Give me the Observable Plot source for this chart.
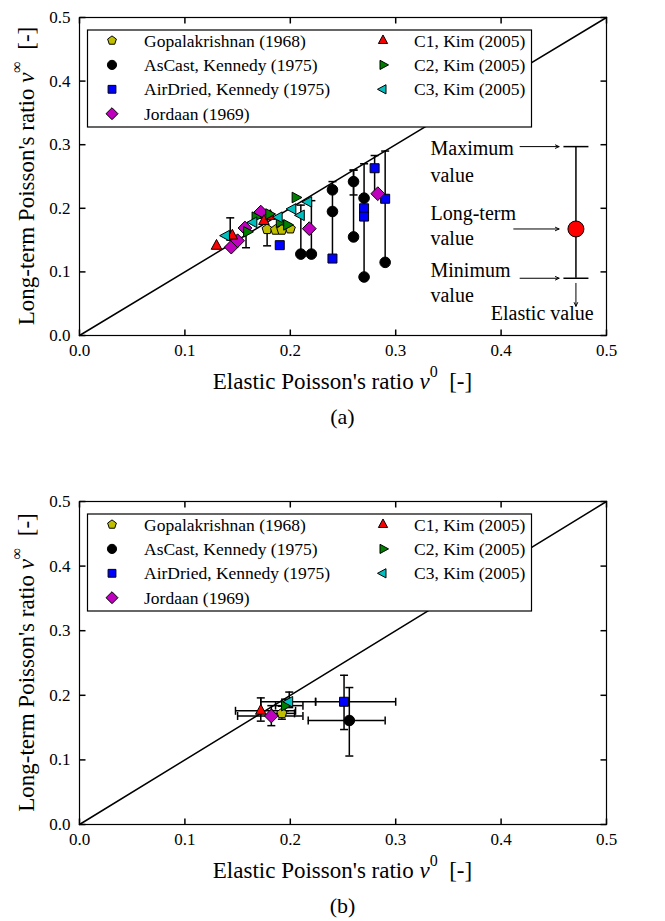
<!DOCTYPE html>
<html><head><meta charset="utf-8">
<script src="https://cdn.jsdelivr.net/npm/d3@7"></script>
<script src="https://cdn.jsdelivr.net/npm/@observablehq/plot@0.6"></script>
<style>body{margin:0;background:#fff;} #chart{width:665px;} svg{display:block;}</style>
</head><body><div id="chart"></div>
<script>
// ---------- shared ----------
const ticks = [0, 0.1, 0.2, 0.3, 0.4, 0.5];
const diagonal = [0, 0.5];
const legendLabels = ["Gopalakrishnan (1968)", "AsCast, Kennedy (1975)", "AirDried, Kennedy (1975)", "Jordaan (1969)",
                      "C1, Kim (2005)", "C2, Kim (2005)", "C3, Kim (2005)"];
const seriesColors = ["#bfbf00", "#000000", "#0000ff", "#bf00bf", "#ff0000", "#008000", "#00bfbf"];
const xTitle = "Elastic Poisson's ratio ";
const yTitle = "Long-term Poisson's ratio ";
const panelTags = ["(a)", "(b)"];

// ---------- panel (a): [x = elastic, y = long-term] ----------
const a_gopal    = [[0.178,0.167],[0.186,0.166],[0.192,0.166],[0.200,0.168]];
const a_ascast   = [[0.21,0.128],[0.22,0.128],[0.24,0.229],[0.24,0.195],[0.26,0.242],[0.26,0.155],[0.27,0.216],[0.27,0.092],[0.29,0.115]];
const a_airdried = [[0.19,0.142],[0.24,0.121],[0.27,0.200],[0.27,0.187],[0.28,0.263],[0.29,0.215]];
const a_jordaan  = [[0.144,0.139],[0.150,0.149],[0.157,0.169],[0.172,0.194],[0.218,0.168],[0.283,0.223]];
const a_c1       = [[0.130,0.141],[0.145,0.157],[0.175,0.180],[0.181,0.188]];
const a_c2       = [[0.159,0.163],[0.167,0.186],[0.180,0.191],[0.190,0.178],[0.197,0.174],[0.205,0.217]];
const a_c3       = [[0.139,0.157],[0.165,0.178],[0.189,0.186],[0.202,0.199],[0.210,0.189],[0.217,0.210]];
// vertical range lines [x, low, high]
const a_ranges   = [[0.21,0.128,0.205],[0.22,0.128,0.212],[0.24,0.121,0.242],[0.26,0.155,0.26],[0.27,0.092,0.27],[0.28,0.223,0.283],[0.29,0.115,0.29]];
const a_errbars  = [[0.143,0.150,0.185],[0.158,0.138,0.170],[0.178,0.141,0.190],[0.26,0.221,0.26]];
// explanatory key drawn inside panel (a)
const key_bar    = [[0.471, 0.090, 0.297]];
const key_point  = [[0.471, 0.1675]];
const key_arrows = [[0.418,0.297,0.455,0.297],[0.412,0.1675,0.455,0.1675],[0.418,0.090,0.455,0.090],[0.471,0.082,0.471,0.046]];
const key_text_left = [["Maximum",0.333,0.294],["value",0.333,0.251],["Long-term",0.333,0.1915],
                       ["value",0.333,0.152],["Minimum",0.333,0.102],["value",0.333,0.063]];
const key_text_mid  = [["Elastic value",0.439,0.034]];

// ---------- panel (b): [x, y, xlo, xhi, ylo, yhi] ----------
const b_gopal    = [[0.192,0.172,0.183,0.204,0.163,0.183]];
const b_ascast   = [[0.256,0.161,0.217,0.290,0.106,0.212]];
const b_airdried = [[0.251,0.190,0.224,0.300,0.147,0.231]];
const b_jordaan  = [[0.182,0.168,0.150,0.212,0.153,0.184]];
const b_c1       = [[0.172,0.176,0.148,0.205,0.160,0.196]];
const b_c2       = [[0.195,0.184,0.186,0.212,0.176,0.194]];
const b_c3       = [[0.199,0.190,0.172,0.224,0.181,0.205]];

// ---------- symbols ----------
const FONT = "'Liberation Serif','Times New Roman',serif";
const mk = f => ({draw(c, size) { const r = Math.sqrt(size / Math.PI); f(c, r); }});
const pentagon = mk((c, r) => { for (let i = 0; i < 5; i++) { const a = -Math.PI/2 + i*2*Math.PI/5; const x = r*Math.cos(a), y = r*Math.sin(a); i ? c.lineTo(x, y) : c.moveTo(x, y); } c.closePath(); });
const circle   = mk((c, r) => { c.moveTo(r, 0); c.arc(0, 0, r, 0, 2*Math.PI); });
const square   = mk((c, r) => { const s = r*0.85; c.moveTo(-s,-s); c.lineTo(s,-s); c.lineTo(s,s); c.lineTo(-s,s); c.closePath(); });
const diamond  = mk((c, r) => { const s = r*1.3; c.moveTo(0,-s); c.lineTo(s,0); c.lineTo(0,s); c.lineTo(-s,0); c.closePath(); });
const triUp    = mk((c, r) => { c.moveTo(0,-r*1.2); c.lineTo(r,r*0.65); c.lineTo(-r,r*0.65); c.closePath(); });
const triRight = mk((c, r) => { c.moveTo(r*1.2,0); c.lineTo(-r*0.65,r); c.lineTo(-r*0.65,-r); c.closePath(); });
const triLeft  = mk((c, r) => { c.moveTo(-r*1.2,0); c.lineTo(r*0.65,-r); c.lineTo(r*0.65,r); c.closePath(); });
const hcap     = mk((c, r) => { c.moveTo(-r,0); c.lineTo(r,0); });
const vcap     = mk((c, r) => { c.moveTo(0,-r); c.lineTo(0,r); });
const tkUp     = {draw(c){ c.moveTo(0,0); c.lineTo(0,-6); }};
const tkDown   = {draw(c){ c.moveTo(0,0); c.lineTo(0,6); }};
const tkRight  = {draw(c){ c.moveTo(0,0); c.lineTo(6,0); }};
const tkLeft   = {draw(c){ c.moveTo(0,0); c.lineTo(-6,0); }};
const seriesSymbols = [pentagon, circle, square, diamond, triUp, triRight, triLeft];
const R = 5.3;

const dots = (data, i, r = R) => Plot.dot(data, {x: d => d[0], y: d => d[1], symbol: seriesSymbols[i], r,
  fill: seriesColors[i], stroke: "black", strokeWidth: 1});

function frameMarks() {
  return [
    Plot.axisX(ticks, {tickSize: 0, tickPadding: 8, tickFormat: d3.format(".1f"), fontSize: 17, fontFamily: FONT, label: null}),
    Plot.axisY(ticks, {tickSize: 0, tickPadding: 9, tickFormat: d3.format(".1f"), fontSize: 17, fontFamily: FONT, label: null}),
    Plot.dot(ticks, {x: d => d, frameAnchor: "bottom", symbol: tkUp, r: 1, fill: "none", stroke: "black"}),
    Plot.dot(ticks, {x: d => d, frameAnchor: "top", symbol: tkDown, r: 1, fill: "none", stroke: "black"}),
    Plot.dot(ticks, {y: d => d, frameAnchor: "left", symbol: tkRight, r: 1, fill: "none", stroke: "black"}),
    Plot.dot(ticks, {y: d => d, frameAnchor: "right", symbol: tkLeft, r: 1, fill: "none", stroke: "black"}),
    Plot.frame({stroke: "black", strokeWidth: 1.2})
  ];
}

function panel(height, marginTop, marginBottom, marks) {
  return Plot.plot({
    width: 665, height, marginLeft: 79, marginRight: 59, marginTop, marginBottom,
    x: {domain: [0, 0.5], label: null, axis: null},
    y: {domain: [0, 0.5], label: null, axis: null},
    style: {fontFamily: FONT, fontSize: "17px", background: "white", color: "black"},
    marks: [
      Plot.line(diagonal, {x: d => d, y: d => d, stroke: "black", strokeWidth: 1.5}),
      ...marks,
      ...frameMarks()
    ]
  });
}

function decorate(svg, plotTop, plotBottom, tag) {
  const s = d3.select(svg);
  s.selectAll("text").style("font-family", FONT);
  const cx = (79 + 606) / 2, cy = (plotTop + plotBottom) / 2;
  const TS = 23;
  // x title
  const tx = s.append("text").attr("x", cx).attr("y", plotBottom + 46).attr("text-anchor", "middle")
    .style("font-family", FONT).attr("font-size", TS).attr("fill", "black").attr("dominant-baseline", "central");
  tx.append("tspan").text(xTitle);
  tx.append("tspan").attr("font-style", "italic").text("ν");
  tx.append("tspan").attr("dy", -10).attr("font-size", 16).text("0");
  tx.append("tspan").attr("dy", 10).text("\u00a0\u00a0[-]");
  // y title
  const ty = s.append("text").attr("transform", `translate(26,${cy}) rotate(-90)`).attr("text-anchor", "middle")
    .style("font-family", FONT).attr("font-size", TS).attr("fill", "black").attr("dominant-baseline", "central");
  ty.append("tspan").text(yTitle);
  ty.append("tspan").attr("font-style", "italic").text("ν");
  ty.append("tspan").attr("dy", -10).attr("font-size", 16).text("∞");
  ty.append("tspan").attr("dy", 10).text("\u00a0\u00a0[-]");
  // panel tag
  s.append("text").attr("x", cx).attr("y", plotBottom + 81).attr("text-anchor", "middle")
    .style("font-family", FONT).attr("font-size", 22).attr("fill", "black").attr("dominant-baseline", "central").text(tag);
  // legend
  const g = s.append("g").attr("transform", `translate(87.5,${plotTop + 13})`);
  g.append("rect").attr("width", 444).attr("height", 97).attr("fill", "white").attr("stroke", "black").attr("stroke-width", 1.2);
  legendLabels.forEach((lab, i) => {
    const col = i < 4 ? 0 : 1, row = i < 4 ? i : i - 4;
    const sx = col ? 295.5 : 24.5, ty0 = 10.5 + row * 24.4;
    g.append("path").attr("transform", `translate(${sx},${ty0})`)
      .attr("d", d3.symbol().type(seriesSymbols[i]).size(Math.PI * 4.6 * 4.6)())
      .attr("fill", seriesColors[i]).attr("stroke", "black").attr("stroke-width", 1);
    g.append("text").attr("x", col ? 326.5 : 56.5).attr("y", ty0).attr("dominant-baseline", "central")
      .attr("text-anchor", "start")
      .style("font-family", FONT).attr("font-size", 17.5).attr("fill", "black").text(lab);
  });
}

// ---------- panel (a) ----------
const aSeries = [a_gopal, a_ascast, a_airdried, a_jordaan, a_c1, a_c2, a_c3];
const capOpts = {stroke: "black", strokeWidth: 1.5, fill: "none"};
const aMarks = [
  Plot.ruleX(a_ranges, {x: d => d[0], y1: d => d[1], y2: d => d[2], stroke: "black", strokeWidth: 1.5}),
  Plot.dot(a_ranges, {x: d => d[0], y: d => d[2], symbol: hcap, r: 4, ...capOpts}),
  Plot.ruleX(a_errbars, {x: d => d[0], y1: d => d[1], y2: d => d[2], stroke: "black", strokeWidth: 1.5}),
  Plot.dot(a_errbars, {x: d => d[0], y: d => d[1], symbol: hcap, r: 4, ...capOpts}),
  Plot.dot(a_errbars, {x: d => d[0], y: d => d[2], symbol: hcap, r: 4, ...capOpts}),
  ...aSeries.map((d, i) => dots(d, i)),
  // key
  Plot.ruleX(key_bar, {x: d => d[0], y1: d => d[1], y2: d => d[2], stroke: "black", strokeWidth: 1.5}),
  Plot.dot(key_bar, {x: d => d[0], y: d => d[1], symbol: hcap, r: 12.5, ...capOpts}),
  Plot.dot(key_bar, {x: d => d[0], y: d => d[2], symbol: hcap, r: 12.5, ...capOpts}),
  Plot.dot(key_point, {x: d => d[0], y: d => d[1], r: 8, fill: "#ff0000", stroke: "black", strokeWidth: 1}),
  Plot.arrow(key_arrows, {x1: d => d[0], y1: d => d[1], x2: d => d[2], y2: d => d[3], stroke: "black", strokeWidth: 1, headLength: 6, headAngle: 50}),
  Plot.text(key_text_left, {x: d => d[1], y: d => d[2], text: d => d[0], textAnchor: "start", fontSize: 20, fontFamily: FONT, lineAnchor: "middle", fill: "black"}),
  Plot.text(key_text_mid, {x: d => d[1], y: d => d[2], text: d => d[0], textAnchor: "middle", fontSize: 20, fontFamily: FONT, lineAnchor: "middle", fill: "black"})
];
const svgA = panel(460, 17, 125, aMarks);
decorate(svgA, 17, 335, panelTags[0]);

// ---------- panel (b) ----------
const bSeries = [b_gopal, b_ascast, b_airdried, b_jordaan, b_c1, b_c2, b_c3];
const bAll = bSeries.flat();
const bMarks = [
  Plot.ruleX(bAll, {x: d => d[0], y1: d => d[4], y2: d => d[5], stroke: "black", strokeWidth: 1.5}),
  Plot.ruleY(bAll, {y: d => d[1], x1: d => d[2], x2: d => d[3], stroke: "black", strokeWidth: 1.5}),
  Plot.dot(bAll, {x: d => d[0], y: d => d[4], symbol: hcap, r: 4, ...capOpts}),
  Plot.dot(bAll, {x: d => d[0], y: d => d[5], symbol: hcap, r: 4, ...capOpts}),
  Plot.dot(bAll, {x: d => d[2], y: d => d[1], symbol: vcap, r: 4, ...capOpts}),
  Plot.dot(bAll, {x: d => d[3], y: d => d[1], symbol: vcap, r: 4, ...capOpts}),
  ...bSeries.map((d, i) => dots(d, i))
];
const svgB = panel(461, 41, 97, bMarks);
decorate(svgB, 41, 364, panelTags[1]);

document.getElementById("chart").append(svgA, svgB);
</script></body></html>
